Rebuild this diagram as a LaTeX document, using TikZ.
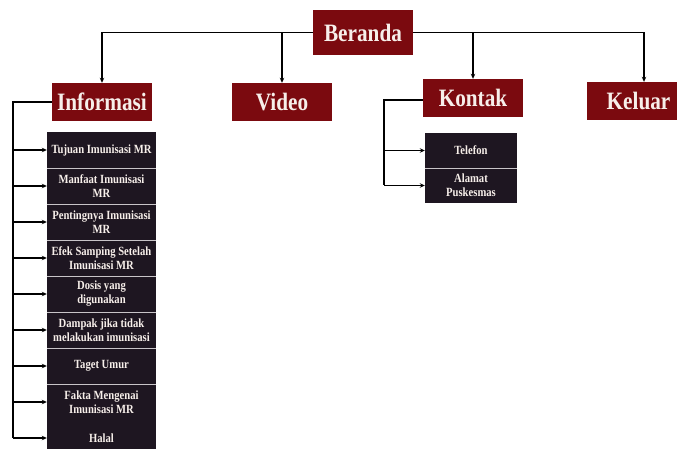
\documentclass[tikz,border=0pt]{standalone}
\usepackage{fontspec}
\setmainfont{Liberation Serif}[FakeStretch=0.85]
\usetikzlibrary{arrows.meta}
\definecolor{maroon}{HTML}{7B0A0F}
\definecolor{subc}{HTML}{1E1621}
\definecolor{sepc}{HTML}{C8C4C8}
\definecolor{txtc}{HTML}{F7EFEA}
\tikzset{
  head/.style={fill=maroon, text=txtc, inner sep=0pt, minimum width=100pt, minimum height=38pt,
    font=\fontsize{25}{28}\selectfont\bfseries},
  subbox/.style={fill=subc, text=txtc, inner sep=0pt, minimum width=109pt, minimum height=36pt,
    align=center, font=\fontsize{12.5}{14}\selectfont\bfseries},
  kbox/.style={subbox, minimum width=92pt, minimum height=35pt},
  conn/.style={line width=1.5pt, black},
  arr/.style={conn, -{Stealth[length=5pt,width=4.5pt]}},
  sep/.style={sepc, line width=0.6pt}
}
\begin{document}
\begin{tikzpicture}[x=1pt,y=-1pt]
\useasboundingbox (0,0) rectangle (677,449);
\fill[white] (0,0) rectangle (677,449);
\begin{scope}
\clip (0,0) rectangle (677,449);
% headers
\node[head, minimum height=45pt] (beranda) at (363,32.5) {Beranda};
\node[head] (informasi) at (102,102) {Informasi};
\node[head] (video) at (282,102) {Video};
\node[head] (kontak) at (473,98) {Kontak};
\node[head, minimum width=103pt] (keluar) at (638.5,101) {Keluar};
% Beranda connectors
\draw[arr] (beranda.west) -| (informasi.north);
\draw[arr] (beranda.east) -| ([xshift=5.5pt]keluar.north);
\draw[arr] (video.north |- beranda.west) -- (video.north);
\draw[arr] (kontak.north |- beranda.east) -- (kontak.north);
% Informasi sub boxes
\node[subbox] (s1) at (101.5,150) {Tujuan Imunisasi MR};
\node[subbox] (s2) at (101.5,186) {Manfaat Imunisasi\\MR};
\node[subbox] (s3) at (101.5,222) {Pentingnya Imunisasi\\MR};
\node[subbox] (s4) at (101.5,258) {Efek Samping Setelah\\Imunisasi MR};
\node[subbox] (s5) at (101.5,294) {Dosis yang\\digunakan};
\node[subbox] (s6) at (101.5,330) {Dampak jika tidak\\melakukan imunisasi};
\node[subbox] (s7) at (101.5,366) {Taget Umur};
\node[subbox] (s8) at (101.5,402) {Fakta Mengenai\\Imunisasi MR};
\node[subbox] (s9) at (101.5,438) {Halal};
\foreach \n in {s1,s2,s3,s4,s5,s6,s7}{
  \draw[sep] (\n.south west) -- (\n.south east);
}
\coordinate (trunk) at (13,101);
\draw[conn] (informasi.west) -- (trunk |- informasi.west) -- (trunk |- s9.west);
\foreach \n in {s1,s2,s3,s4,s5,s6,s7,s8,s9}{
  \draw[arr] (trunk |- \n.west) -- (\n.west);
}
% Kontak sub boxes
\node[kbox] (k1) at (471,150.5) {Telefon};
\node[kbox] (k2) at (471,185.5) {Alamat\\Puskesmas};
\draw[sep] (k1.south west) -- (k1.south east);
\coordinate (ktrunk) at (384,100);
\draw[conn] (kontak.west |- ktrunk) -- (ktrunk) -- (ktrunk |- k2.west);
\draw[arr] (ktrunk |- k1.west) -- (k1.west);
\draw[arr] (ktrunk |- k2.west) -- (k2.west);
\end{scope}
\end{tikzpicture}
\end{document}
